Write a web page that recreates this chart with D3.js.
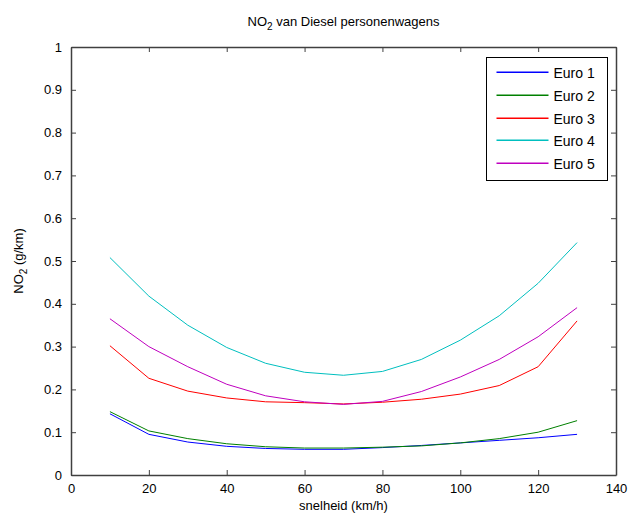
<!DOCTYPE html>
<html>
<head>
<meta charset="utf-8">
<script src="https://cdn.jsdelivr.net/npm/d3@7"></script>
<style>
  body { margin: 0; background: #fff; }
  text { font-family: "Liberation Sans", Arial, sans-serif; fill: #000; }
</style>
</head>
<body>
<div id="chart"></div>
<script>
// snelheid (km/h)
var speeds = [10, 20, 30, 40, 50, 60, 70, 80, 90, 100, 110, 120, 130];

var euro1 = [0.143, 0.095, 0.077, 0.067, 0.062, 0.060, 0.060, 0.064, 0.069, 0.075, 0.081, 0.087, 0.095];
var euro2 = [0.148, 0.103, 0.085, 0.073, 0.066, 0.063, 0.063, 0.065, 0.068, 0.075, 0.085, 0.100, 0.127];
var euro3 = [0.302, 0.226, 0.196, 0.180, 0.171, 0.169, 0.166, 0.170, 0.177, 0.189, 0.209, 0.253, 0.360];
var euro4 = [0.508, 0.418, 0.350, 0.298, 0.261, 0.240, 0.233, 0.242, 0.270, 0.315, 0.372, 0.448, 0.543];
var euro5 = [0.365, 0.300, 0.253, 0.212, 0.185, 0.171, 0.165, 0.172, 0.195, 0.229, 0.270, 0.323, 0.391];

var seriesNames = ["Euro 1", "Euro 2", "Euro 3", "Euro 4", "Euro 5"];
var seriesValues = [euro1, euro2, euro3, euro4, euro5];
var seriesColors = ["#0000ff", "#008000", "#ff0000", "#00bfbf", "#bf00bf"];

var xTicks = [0, 20, 40, 60, 80, 100, 120, 140];
var yTicks = [0, 0.1, 0.2, 0.3, 0.4, 0.5, 0.6, 0.7, 0.8, 0.9, 1];

var width = 631, height = 519;
var plotL = 71, plotR = 616, plotT = 47, plotB = 475;

var x = d3.scaleLinear().domain([0, 140]).range([plotL, plotR]);
var y = d3.scaleLinear().domain([0, 1]).range([plotB, plotT]);

var svg = d3.select("#chart").append("svg")
    .attr("width", width)
    .attr("height", height);

var axisColor = "#404040";

// lines
var line = d3.line()
    .x(function (d, i) { return x(speeds[i]); })
    .y(function (d) { return y(d); });

svg.selectAll("path.series")
    .data(seriesValues)
    .enter()
    .append("path")
    .attr("class", "series")
    .attr("d", line)
    .attr("fill", "none")
    .attr("stroke", function (d, i) { return seriesColors[i]; })
    .attr("stroke-width", 1);

// axes (inward ticks, box)
function styleAxis(g) {
  g.selectAll("path.domain").attr("stroke", axisColor).attr("stroke-width", 1.5);
  g.selectAll(".tick line").attr("stroke", axisColor);
  g.selectAll(".tick text").style("font-size", "13px").attr("fill", "#000");
}

svg.append("g")
    .attr("transform", "translate(0," + plotB + ")")
    .call(d3.axisBottom(x).tickValues(xTicks).tickSizeInner(-5).tickSizeOuter(0).tickPadding(9))
    .call(styleAxis);

svg.append("g")
    .attr("transform", "translate(0," + plotT + ")")
    .call(d3.axisTop(x).tickValues(xTicks).tickSizeInner(-5).tickSizeOuter(0).tickFormat(""))
    .call(styleAxis);

svg.append("g")
    .attr("transform", "translate(" + plotL + ",0)")
    .call(d3.axisLeft(y).tickValues(yTicks).tickSizeInner(-5).tickSizeOuter(0).tickPadding(9)
      .tickFormat(function (d) { return d3.format("~g")(d); }))
    .call(styleAxis);

svg.append("g")
    .attr("transform", "translate(" + plotR + ",0)")
    .call(d3.axisRight(y).tickValues(yTicks).tickSizeInner(-5).tickSizeOuter(0).tickFormat(""))
    .call(styleAxis);

// title
var title = svg.append("text")
    .attr("x", (plotL + plotR) / 2)
    .attr("y", 26)
    .attr("text-anchor", "middle")
    .style("font-size", "13px");
title.append("tspan").text("NO");
title.append("tspan").attr("dy", 4).style("font-size", "10px").text("2");
title.append("tspan").attr("dy", -4).text(" van Diesel personenwagens");

// x label
svg.append("text")
    .attr("x", (plotL + plotR) / 2)
    .attr("y", 510)
    .attr("text-anchor", "middle")
    .style("font-size", "13px")
    .text("snelheid (km/h)");

// y label
var ylab = svg.append("text")
    .attr("transform", "translate(23," + (plotT + plotB) / 2 + ") rotate(-90)")
    .attr("text-anchor", "middle")
    .style("font-size", "13px");
ylab.append("tspan").text("NO");
ylab.append("tspan").attr("dy", 4).style("font-size", "10px").text("2");
ylab.append("tspan").attr("dy", -4).text(" (g/km)");

// legend
var lg = svg.append("g").attr("transform", "translate(486.5,57.5)");
lg.append("rect")
    .attr("width", 121)
    .attr("height", 123)
    .attr("fill", "#fff")
    .attr("stroke", "#000")
    .attr("stroke-width", 1);

var items = lg.selectAll("g.item")
    .data(seriesNames)
    .enter()
    .append("g")
    .attr("class", "item")
    .attr("transform", function (d, i) { return "translate(0," + Math.round(15 + i * 22.8) + ")"; });

items.append("rect")
    .attr("x", 10).attr("width", 52)
    .attr("y", -1).attr("height", 1.5)
    .attr("fill", function (d, i) { return seriesColors[i]; });

items.append("text")
    .attr("x", 67)
    .attr("y", 5)
    .style("font-size", "14px")
    .text(function (d) { return d; });
</script>
</body>
</html>
